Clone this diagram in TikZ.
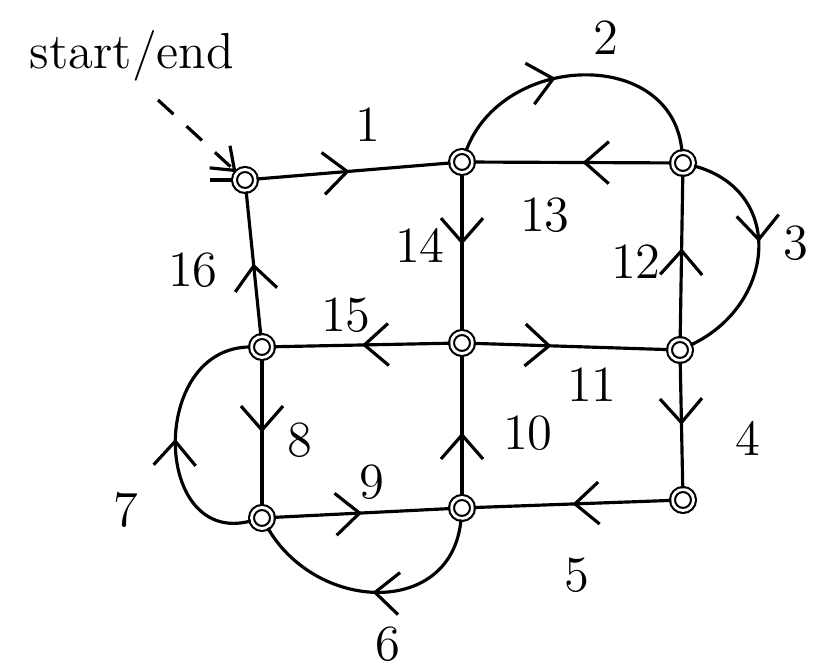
\documentclass[tikz,border=0pt]{standalone}
\usepackage{tikz}
\usetikzlibrary{arrows.meta,decorations.markings}

\begin{document}
\begin{tikzpicture}[
  x=0.01cm, y=-0.01cm,
  vtx/.style={draw, circle, double, double distance=0.8pt, inner sep=0pt,
              minimum size=0.21cm, line width=0.6pt},
  edge/.style={line width=0.9pt, postaction={decorate},
               decoration={markings, mark=at position #1 with
               {\arrow{Straight Barb[length=2.4mm,width=4.2mm,line width=0.9pt]}}}},
  edge/.default=0.5,
  lbl/.style={font=\Large}
]
\useasboundingbox (0,0) rectangle (820,671);

% vertices
\node[vtx] (a) at (245,180) {};
\node[vtx] (b) at (462,162) {};
\node[vtx] (c) at (683,163) {};
\node[vtx] (d) at (262,347) {};
\node[vtx] (e) at (462,343) {};
\node[vtx] (f) at (680,350) {};
\node[vtx] (g) at (262,518) {};
\node[vtx] (h) at (462,508) {};
\node[vtx] (i) at (683,500) {};

% start marker
\node[lbl] (start) at (132,56) {start/end};
\coordinate (tail) at (210,180);
\draw[line width=0.9pt, dashed, dash pattern=on 6pt off 5pt, -{Straight Barb[length=2mm,width=3mm]}]
  (158,100) -- (a);
\draw[line width=0.9pt] (tail) -- (a);

% tour
\draw[edge=0.48] (a) -- (b);
\draw[edge=0.42] (b) to[out=70, in=95, looseness=1.25] (c);
\draw[edge=0.45] (c) to[out=-15, in=25, looseness=1.35] (f);
\draw[edge] (f) -- (i);
\draw[edge] (i) -- (h);
\draw[edge=0.5] (h) to[out=-95, in=-60, looseness=1.3] (g);
\draw[edge=0.5] (g) to[out=195, in=180, looseness=1.5] (d);
\draw[edge] (d) -- (g);
\draw[edge=0.5] (g) -- (h);
\draw[edge=0.45] (h) -- (e);
\draw[edge=0.4] (e) -- (f);
\draw[edge=0.55] (f) -- (c);
\draw[edge=0.45] (c) -- (b);
\draw[edge=0.45] (b) -- (e);
\draw[edge=0.5] (e) -- (d);
\draw[edge=0.5] (d) -- (a);

% edge numbers
\node[lbl] (l1)  at (368,125) {1};
\node[lbl] (l2)  at (606,38)  {2};
\node[lbl] (l3)  at (796,243) {3};
\node[lbl] (l4)  at (748,438) {4};
\node[lbl] (l5)  at (577,575) {5};
\node[lbl] (l6)  at (388,644) {6};
\node[lbl] (l7)  at (126,510) {7};
\node[lbl] (l8)  at (300,440) {8};
\node[lbl] (l9)  at (372,482) {9};
\node[lbl] (l10) at (528,433) {10};
\node[lbl] (l11) at (592,385) {11};
\node[lbl] (l12) at (636,262) {12};
\node[lbl] (l13) at (545,215) {13};
\node[lbl] (l14) at (420,245) {14};
\node[lbl] (l15) at (346,315) {15};
\node[lbl] (l16) at (193,270) {16};
\end{tikzpicture}
\end{document}
